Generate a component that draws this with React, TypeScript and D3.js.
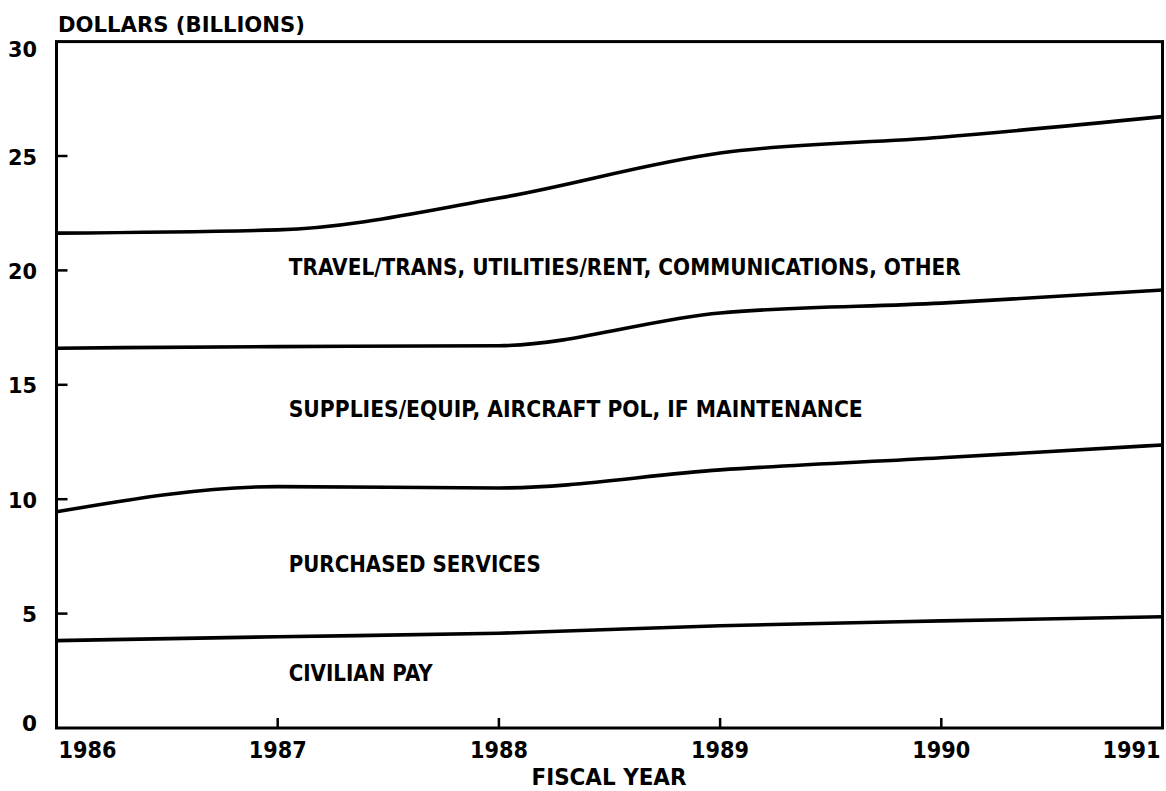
import React from "react";
import * as d3 from "d3";

const years = [1986, 1987, 1988, 1989, 1990, 1991];
// Cumulative (stacked) top boundaries of each band, billions of dollars
const civilianPay = [3.82, 3.99, 4.14, 4.47, 4.68, 4.86];
const purchasedServices = [9.45, 10.55, 10.49, 11.28, 11.81, 12.37];
const suppliesEquip = [16.6, 16.67, 16.71, 18.14, 18.57, 19.14];
const travelOther = [21.63, 21.77, 23.16, 25.13, 25.82, 26.72];

const yTicks = [0, 5, 10, 15, 20, 25, 30];
const xTickLabels = ["1986", "1987", "1988", "1989", "1990", "1991"];

const bandLabels = [
  "TRAVEL/TRANS, UTILITIES/RENT, COMMUNICATIONS, OTHER",
  "SUPPLIES/EQUIP, AIRCRAFT POL, IF MAINTENANCE",
  "PURCHASED SERVICES",
  "CIVILIAN PAY",
];
const bandLabelValues = [19.8, 13.6, 6.82, 2.05];
const bandLabelWidths = [672, 574, 252, 144];

const W = 1166;
const H = 791;
const left = 56.5;
const right = 1162.5;
const bottom = 728;
const top = 41.6;

const FONT = "'DejaVu Sans', 'Liberation Sans', sans-serif";

export default function App() {
  const x = d3.scaleLinear().domain([1986, 1991]).range([left, right]);
  const y = d3.scaleLinear().domain([0, 30]).range([bottom, top]);
  const line = d3
    .line<number>()
    .x((_, i) => x(years[i]))
    .y((d) => y(d))
    .curve(d3.curveMonotoneX);

  const series = [civilianPay, purchasedServices, suppliesEquip, travelOther];

  const yLabelPos = (t: number) => (t === 30 ? y(t) + 8 : t === 0 ? y(t) - 4.5 : y(t) + 1);

  return (
    <svg
      width={W}
      height={H}
      style={{ position: "absolute", left: 0, top: 0, background: "#fff" }}
    >
      <rect x={0} y={0} width={W} height={H} fill="#fff" />
      {series.map((s, i) => (
        <path
          key={i}
          d={line(s) || ""}
          fill="none"
          stroke="#000"
          strokeWidth={3.6}
          strokeLinejoin="round"
        />
      ))}
      {/* frame */}
      <rect
        x={left}
        y={top}
        width={right - left}
        height={bottom - top}
        fill="none"
        stroke="#000"
        strokeWidth={3}
      />
      {/* y ticks */}
      {yTicks.map((t) => (
        <g key={t}>
          {t > 0 && t < 30 && (
            <line x1={left} x2={left + 11} y1={y(t)} y2={y(t)} stroke="#000" strokeWidth={2.5} />
          )}
          <text
            x={37}
            y={yLabelPos(t)}
            dy="0.36em"
            textAnchor="end"
            fontFamily={FONT}
            fontWeight="bold"
            fontSize={21}
            textLength={String(t).length === 1 ? 15 : 29}
            lengthAdjust="spacingAndGlyphs"
          >
            {t}
          </text>
        </g>
      ))}
      {/* x ticks */}
      {years.map((yr, i) => (
        <g key={yr}>
          {i > 0 && i < years.length - 1 && (
            <line x1={x(yr)} x2={x(yr)} y1={bottom} y2={bottom - 10} stroke="#000" strokeWidth={2.5} />
          )}
          <text
            x={i === 0 ? x(yr) + 2 : i === years.length - 1 ? x(yr) - 2 : x(yr)}
            y={758}
            textAnchor={i === 0 ? "start" : i === years.length - 1 ? "end" : "middle"}
            fontFamily={FONT}
            fontWeight="bold"
            fontSize={23}
            textLength={58}
            lengthAdjust="spacingAndGlyphs"
          >
            {xTickLabels[i]}
          </text>
        </g>
      ))}
      {/* axis titles */}
      <text
        x={58}
        y={32}
        fontFamily={FONT}
        fontWeight="bold"
        fontSize={21}
        textLength={247}
        lengthAdjust="spacingAndGlyphs"
      >
        DOLLARS (BILLIONS)
      </text>
      <text
        x={609}
        y={785}
        textAnchor="middle"
        fontFamily={FONT}
        fontWeight="bold"
        fontSize={23}
        textLength={155}
        lengthAdjust="spacingAndGlyphs"
      >
        FISCAL YEAR
      </text>
      {/* band labels */}
      {bandLabels.map((lab, i) => (
        <text
          key={lab}
          x={x(1987) + 11}
          y={y(bandLabelValues[i])}
          fontFamily={FONT}
          fontWeight="bold"
          fontSize={23}
          textLength={bandLabelWidths[i]}
          lengthAdjust="spacingAndGlyphs"
        >
          {lab}
        </text>
      ))}
    </svg>
  );
}
